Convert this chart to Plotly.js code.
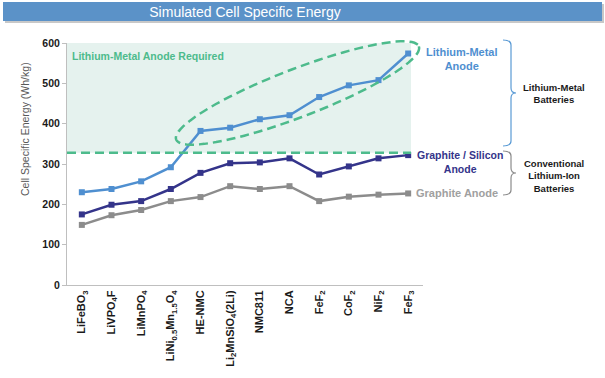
<!DOCTYPE html>
<html><head><meta charset="utf-8">
<script src="https://cdn.plot.ly/plotly-3.0.1.min.js"></script>
<style>html,body{margin:0;padding:0;background:#fff}#chart{width:605px;height:378px}</style>
</head><body><div id="chart"></div>
<script>
const categories = ["LiFeBO3","LiVPO4F","LiMnPO4","LiNi0.5Mn1.5O4","HE-NMC","Li2MnSiO4(2Li)","NMC811","NCA","FeF2","CoF2","NiF2","FeF3"];
const tickLabels = ["LiFeBO<sub>3</sub>","LiVPO<sub>4</sub>F","LiMnPO<sub>4</sub>","LiNi<sub>0.5</sub>Mn<sub>1.5</sub>O<sub>4</sub>","HE-NMC","Li<sub>2</sub>MnSiO<sub>4</sub>(2Li)","NMC811","NCA","FeF<sub>2</sub>","CoF<sub>2</sub>","NiF<sub>2</sub>","FeF<sub>3</sub>"];
const lithiumMetal = [230, 238, 257, 292, 382, 390, 411, 421, 466, 495, 508, 574];
const graphiteSilicon = [175, 199, 208, 238, 278, 302, 304, 314, 274, 294, 314, 322];
const graphite = [149, 173, 186, 208, 218, 245, 238, 245, 208, 219, 224, 227];
const threshold = 328;

const W = 605, H = 378;
const L = 67, R = 423, T = 43, B = 285;
const px2x = p => (p - L) / (R - L);
const py2y = p => (B - p) / (B - T);

function ellipsePath(cx, cy, a, b, deg) {
  const t = deg * Math.PI / 180; let s = "";
  for (let k = 0; k <= 90; k++) {
    const u = k / 90 * 2 * Math.PI;
    const x = cx + a * Math.cos(u) * Math.cos(t) + b * Math.sin(u) * Math.sin(t);
    const y = cy - a * Math.cos(u) * Math.sin(t) + b * Math.sin(u) * Math.cos(t);
    s += (k ? " L" : "M") + px2x(x).toFixed(4) + "," + py2y(y).toFixed(4);
  }
  return s + " Z";
}
function bracePath(x, tip, hook, y0, y1) {
  const m = (y0 + y1) / 2, r = 5;
  const P = (a, b) => px2x(a).toFixed(4) + "," + py2y(b).toFixed(4);
  return "M" + P(hook, y0) + " Q" + P(x, y0) + " " + P(x, y0 + r) +
    " L" + P(x, m - r) + " Q" + P(x, m) + " " + P(tip, m) +
    " Q" + P(x, m) + " " + P(x, m + r) + " L" + P(x, y1 - r) +
    " Q" + P(x, y1) + " " + P(hook, y1);
}

const green = "#4dbb8c", lblue = "#4f8fd0", navy = "#34348a", gray = "#8c8c8c";
const mk = (name, y, c) => ({ type: "scatter", mode: "lines+markers", name, x: categories, y,
  line: { color: c, width: 2.5 }, marker: { symbol: "square", size: 6, color: c }, cliponaxis: false });

const data = [mk("Graphite Anode", graphite, gray), mk("Graphite / Silicon Anode", graphiteSilicon, navy), mk("Lithium-Metal Anode", lithiumMetal, lblue)];

const FAM = "Liberation Sans, Arial, sans-serif";
const bold = { family: FAM, weight: "bold" };
const ann = (px, py, text, color, size) => ({ xref: "paper", yref: "paper", x: px2x(px), y: py2y(py),
  text, showarrow: false, font: Object.assign({ size, color }, bold), align: "center", xanchor: "center", yanchor: "middle" });

const layout = {
  width: W, height: H, margin: { l: L, r: W - R, t: T, b: H - B },
  paper_bgcolor: "#fff", plot_bgcolor: "rgba(0,0,0,0)", showlegend: false,
  title: { text: "Simulated Cell Specific Energy", x: 0.5, xref: "paper", xanchor: "center", y: 1 - 12 / H, yanchor: "middle",
    font: { family: FAM, size: 14, color: "#ffffff" } },
  xaxis: { type: "category", range: [-0.5, 11.5], tickmode: "array", tickvals: categories, ticktext: tickLabels,
    tickangle: -90, showgrid: false, zeroline: false, showline: true, linecolor: "#bfbfbf", linewidth: 1, ticks: "",
    tickfont: Object.assign({ size: 11, color: "#1a1a1a" }, bold), fixedrange: true },
  yaxis: { range: [0, 600], dtick: 100, showgrid: false, zeroline: false, showline: true, linecolor: "#bfbfbf", linewidth: 1,
    ticks: "outside", ticklen: 4, tickcolor: "#bfbfbf", tickfont: Object.assign({ size: 10.5, color: "#1a1a1a" }, bold) },
  shapes: [
    { type: "rect", xref: "paper", yref: "paper", x0: px2x(5), x1: px2x(604), y0: py2y(23), y1: py2y(4), fillcolor: "#c8c8c8", line: { width: 0 }, layer: "below" },
    { type: "rect", xref: "paper", yref: "paper", x0: px2x(3), x1: px2x(602), y0: py2y(21), y1: py2y(2), fillcolor: "#5b92c8", line: { width: 0 }, layer: "below" },
    { type: "rect", xref: "paper", yref: "y", x0: 0, x1: px2x(411), y0: threshold, y1: 600, fillcolor: "#e5f2ee", line: { width: 0 }, layer: "below" },
    { type: "line", xref: "paper", yref: "y", x0: 0, x1: px2x(411), y0: threshold, y1: threshold, line: { color: green, width: 2.5, dash: "9px,5px" } },
    { type: "path", xref: "paper", yref: "paper", path: ellipsePath(297.5, 93, 130, 24, 21), line: { color: green, width: 2.5, dash: "9px,5px" } },
    { type: "path", xref: "paper", yref: "paper", path: bracePath(511, 516, 503, 40, 146), line: { color: "#5b9bd5", width: 1.2 } },
    { type: "path", xref: "paper", yref: "paper", path: bracePath(511, 516, 503, 151, 195), line: { color: "#8c8c8c", width: 1.2 } }
  ],
  annotations: [
    { xref: "paper", yref: "paper", x: px2x(25), y: py2y(129), text: "Cell Specific Energy (Wh/kg)", textangle: -90, showarrow: false,
      font: { family: FAM, size: 10.5, color: "#595959" }, xanchor: "center", yanchor: "middle" },
    ann(148, 56, "Lithium-Metal Anode Required", green, 10.5),
    ann(462, 59, "Lithium-Metal<br>Anode", lblue, 11),
    ann(460, 162, "Graphite / Silicon<br>Anode", navy, 10.5),
    ann(457, 193, "Graphite Anode", "#a0a0a0", 11),
    ann(554, 93, "Lithium-Metal<br>Batteries", "#1a1a1a", 9.5),
    ann(554, 176, "Conventional<br>Lithium-Ion<br>Batteries", "#1a1a1a", 9.5)
  ]
};
Plotly.newPlot("chart", data, layout, { displayModeBar: false, staticPlot: true });
</script></body></html>
